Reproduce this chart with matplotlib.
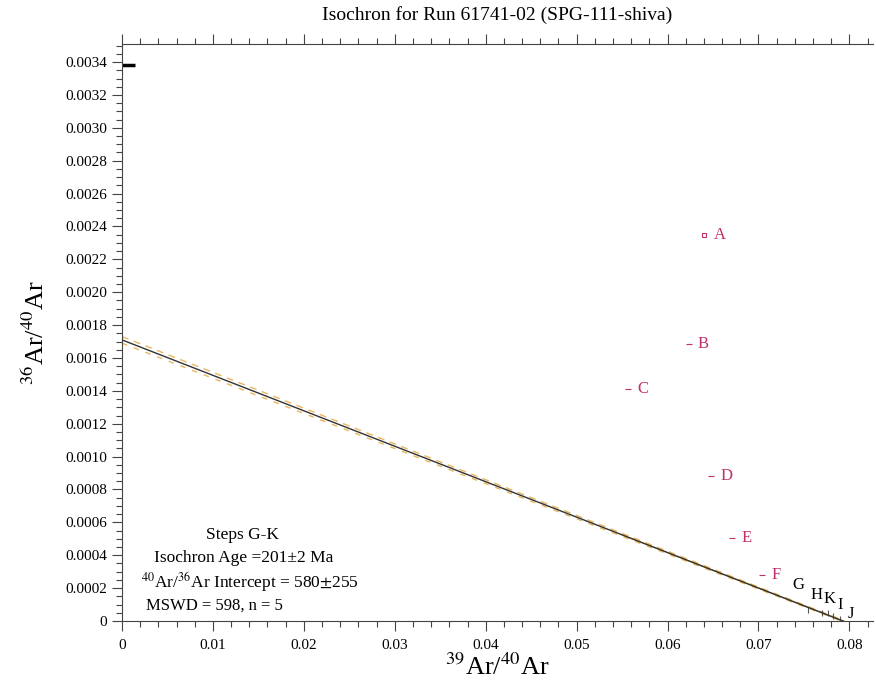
import numpy as np
import matplotlib
matplotlib.use('Agg')
import matplotlib.pyplot as plt
from matplotlib.ticker import MultipleLocator, FuncFormatter

plt.rcParams['font.family'] = ['Liberation Serif', 'DejaVu Serif']
plt.rcParams['mathtext.fontset'] = 'stix'

# step data
steps = ['A', 'B', 'C', 'D', 'E', 'F', 'G', 'H', 'K', 'I', 'J']
x39 = [0.0640, 0.0624, 0.0556, 0.0648, 0.0671, 0.0704, 0.0754, 0.0770, 0.0776, 0.0782, 0.0790]
y36 = [0.002347, 0.001684, 0.00141, 0.00088, 0.000505, 0.00028, 0.000065, 0.00005, 0.00005, 0.00003, 0.00001]
used = [False, False, False, False, False, False, True, True, True, True, True]

# isochron fit
intercept = 0.00171
x_int = 0.0793
env_hi = [0.00173, 0.0795]
env_lo = [0.00169, 0.0791]

fig, ax = plt.subplots(figsize=(8.76, 6.93), dpi=100)
fig.subplots_adjust(left=0.1393, right=0.9966, bottom=0.1039, top=0.9365)

xs = np.array([0, x_int])
ax.plot(xs, [intercept, 0], '-', color='#333333', lw=1.0, zorder=3)
ax.plot([0, env_hi[1]], [env_hi[0], 0], '--', color='#e8b860', lw=1.0, dashes=(5, 4), zorder=2)
ax.plot([0, env_lo[1]], [env_lo[0], 0], '--', color='#e8b860', lw=1.0, dashes=(4, 5), zorder=2)
ax.plot([0.055, x_int], [intercept * (1 - 0.055 / x_int), 0], '-', color='#c89020', lw=0.8, zorder=2)

offs = {'A': (7, 0), 'B': (6, 0), 'C': (7, 0), 'D': (7, 0), 'E': (7, 0), 'F': (7, 0),
        'G': (-11, 18), 'H': (-8, 13), 'K': (-3, 10), 'I': (3, 8), 'J': (5, 4)}
for s, x, y, u in zip(steps, x39, y36, used):
    c = 'black' if u else '#c0306a'
    if s == 'A':
        ax.plot(x, y, 's', ms=3, mfc='none', mec=c, mew=0.8)
    elif u:
        ax.plot(x, y, '|', ms=4, color='#555555', mew=0.8)
    else:
        ax.plot(x, y, '_', ms=5, color=c, mew=0.8)
    ax.annotate(s, (x, y), xytext=offs[s], textcoords='offset points', fontsize=12, color=c,
                va='center', ha='left')

# black mark at top left
ax.plot([0, 0.0014], [0.00338, 0.00338], '-', color='black', lw=2.5, solid_capstyle='butt', clip_on=False)

ax.set_xlim(0, 0.0826)
ax.set_ylim(0, 0.00351)
ax.xaxis.set_major_locator(MultipleLocator(0.01))
ax.xaxis.set_minor_locator(MultipleLocator(0.002))
ax.yaxis.set_major_locator(MultipleLocator(0.0002))
ax.yaxis.set_minor_locator(MultipleLocator(0.00005))
ax.xaxis.set_major_formatter(FuncFormatter(lambda v, p: '0' if abs(v) < 1e-12 else '%.2f' % v))
ax.yaxis.set_major_formatter(FuncFormatter(lambda v, p: '0' if abs(v) < 1e-12 else '%.4f' % v))
ax.tick_params(which='both', direction='out', top=True, right=False, labelsize=11, color='#444444')
ax.tick_params(which='major', length=7, width=0.8)
ax.tick_params(which='minor', length=4, width=0.8)
ax.tick_params(axis='x', pad=6)
ax.spines['right'].set_visible(False)
for sp in ['left', 'top', 'bottom']:
    ax.spines[sp].set_color('#444444')
    ax.spines[sp].set_linewidth(0.8)

fig.text(0.568, 1 - 15 / 693, 'Isochron for Run 61741-02 (SPG-111-shiva)', fontsize=14, ha='center', va='center')
ax.set_xlabel(r'$^{39}$Ar/$^{40}$Ar', fontsize=19, labelpad=1)
ax.set_ylabel(r'$^{36}$Ar/$^{40}$Ar', fontsize=19, labelpad=12)

ax.text(0.0133, 0.000523, 'Steps G-K', fontsize=12.5, ha='center', va='center')
ax.text(0.0134, 0.000383, 'Isochron Age =201\u00b12 Ma', fontsize=12.5, ha='center', va='center')
ax.text(0.0141, 0.000237, r'$^{40}$Ar/$^{36}$Ar Intercept = 580$\pm$255', fontsize=12.5, ha='center', va='center')
ax.text(0.00264, 0.0000912, 'MSWD = 598, n = 5', fontsize=12, ha='left', va='center')

fig.savefig('out.png', dpi=100)
